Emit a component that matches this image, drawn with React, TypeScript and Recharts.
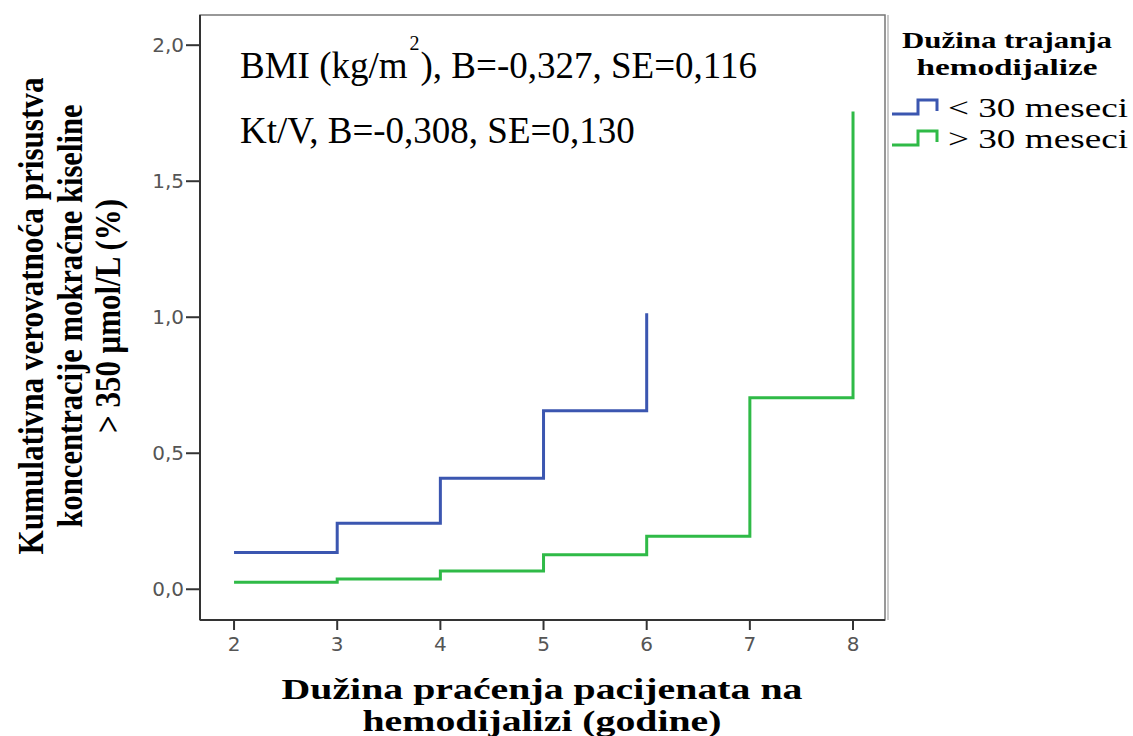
import React from 'react';
import { LineChart, Line, XAxis, YAxis, ReferenceArea } from 'recharts';

// Years of follow-up (x categories)
const YEARS = [2, 3, 4, 5, 6, 7, 8];
// Cumulative probability, < 30 months group
const LT30 = [0.135, 0.243, 0.408, 0.656, 1.015];
// Cumulative probability, > 30 months group
const GT30 = [0.026, 0.038, 0.067, 0.127, 0.195, 0.704, 1.756];
// Tick labels
const X_TICKS = [2, 3, 4, 5, 6, 7, 8];
const Y_TICKS = [0, 0.5, 1.0, 1.5, 2.0];
const SERIES_NAMES = ['< 30 meseci', '> 30 meseci'];
const LEGEND_TITLE = ['Dužina trajanja', 'hemodijalize'];
const X_TITLE = ['Dužina praćenja pacijenata na', 'hemodijalizi (godine)'];
const Y_TITLE = ['Kumulativna verovatnoća prisustva', 'koncentracije mokraćne kiseline', '> 350 μmol/L (%)'];

const X_DOMAIN: [number, number] = [1.67, 8.31];
const Y_DOMAIN: [number, number] = [-0.113, 2.111];

const BLUE = '#3b56b0';
const GREEN = '#2fba47';

const data = YEARS.map((x, i) => ({
  x,
  lt30: i < LT30.length ? LT30[i] : null,
  gt30: GT30[i],
}));

const fmt = (v: number) => v.toFixed(1).replace('.', ',');

const serif = '"Liberation Serif", "Times New Roman", serif';

export default function App() {
  return (
    <div style={{ position: 'absolute', left: 0, top: 0, width: 1133, height: 736, background: '#fff' }}>
      <LineChart
        width={1133}
        height={736}
        data={data}
        margin={{ top: 15, right: 248, bottom: 76, left: 140 }}
      >
        <ReferenceArea
          x1={X_DOMAIN[0]}
          x2={X_DOMAIN[1]}
          y1={Y_DOMAIN[0]}
          y2={Y_DOMAIN[1]}
          fill="none"
          stroke="#777"
          strokeWidth={1.5}
          ifOverflow="visible"
        />
        <XAxis
          dataKey="x"
          type="number"
          domain={X_DOMAIN}
          ticks={X_TICKS}
          allowDataOverflow
          height={40}
          tickSize={10}
          tickMargin={7}
          axisLine={{ stroke: '#333', strokeWidth: 2 }}
          tickLine={{ stroke: '#333', strokeWidth: 2 }}
          tick={{ fill: '#555', fontSize: 20, fontFamily: '"DejaVu Sans", sans-serif' }}
        />
        <YAxis
          type="number"
          domain={Y_DOMAIN}
          ticks={Y_TICKS}
          allowDataOverflow
          width={60}
          tickSize={14}
          tickMargin={2}
          tickFormatter={fmt}
          axisLine={{ stroke: '#333', strokeWidth: 2 }}
          tickLine={{ stroke: '#333', strokeWidth: 2 }}
          tick={{ fill: '#555', fontSize: 20, fontFamily: '"DejaVu Sans", sans-serif' }}
        />
        <Line
          type="stepAfter"
          dataKey="lt30"
          name={SERIES_NAMES[0]}
          stroke={BLUE}
          strokeWidth={3}
          dot={false}
          activeDot={false}
          connectNulls={false}
          isAnimationActive={false}
        />
        <Line
          type="stepAfter"
          dataKey="gt30"
          name={SERIES_NAMES[1]}
          stroke={GREEN}
          strokeWidth={3}
          dot={false}
          activeDot={false}
          isAnimationActive={false}
        />
      </LineChart>
      <svg
        width={1133}
        height={736}
        style={{ position: 'absolute', left: 0, top: 0, pointerEvents: 'none' }}
      >
        {/* annotation */}
        <text x={240} y={78} fontFamily={serif} fontSize={37} fill="#000">
          <tspan>BMI (kg/m</tspan>
          <tspan dx={2} dy={-28} fontSize={20}>2</tspan>
          <tspan dx={1} dy={28}>), B=-0,327, SE=0,116</tspan>
        </text>
        <text x={240} y={143} fontFamily={serif} fontSize={37} fill="#000">
          Kt/V, B=-0,308, SE=0,130
        </text>

        {/* y axis title */}
        {Y_TITLE.map((t, i) => (
          <text
            key={t}
            transform={`translate(${[43, 82, 120][i]},316) rotate(-90)`}
            textAnchor="middle"
            fontFamily={serif}
            fontWeight="bold"
            fontSize={36}
            textLength={[477, 423, 234][i]}
            lengthAdjust="spacingAndGlyphs"
            fill="#000"
          >
            {t}
          </text>
        ))}

        {/* x axis title */}
        {X_TITLE.map((t, i) => (
          <text
            key={t}
            x={542}
            y={[699, 731][i]}
            textAnchor="middle"
            fontFamily={serif}
            fontWeight="bold"
            fontSize={30}
            textLength={[521, 359][i]}
            lengthAdjust="spacingAndGlyphs"
            fill="#000"
          >
            {t}
          </text>
        ))}

        {/* legend */}
        <line x1={888} y1={15} x2={888} y2={620} stroke="#999" strokeWidth={1} />
        {LEGEND_TITLE.map((t, i) => (
          <text
            key={t}
            x={1007}
            y={[48, 75][i]}
            textAnchor="middle"
            fontFamily={serif}
            fontWeight="bold"
            fontSize={24}
            textLength={[210, 181][i]}
            lengthAdjust="spacingAndGlyphs"
            fill="#000"
          >
            {t}
          </text>
        ))}
        {SERIES_NAMES.map((t, i) => {
          const yb = [117, 148][i];
          const c = [BLUE, GREEN][i];
          return (
            <g key={t}>
              <path
                d={`M892,${yb - 3} H918 V${yb - 17} H937 V${yb - 6}`}
                fill="none"
                stroke={c}
                strokeWidth={3}
              />
              <text
                x={948}
                y={yb}
                fontFamily={serif}
                fontSize={27}
                textLength={180}
                lengthAdjust="spacingAndGlyphs"
                fill="#000"
              >
                {t}
              </text>
            </g>
          );
        })}
      </svg>
    </div>
  );
}
